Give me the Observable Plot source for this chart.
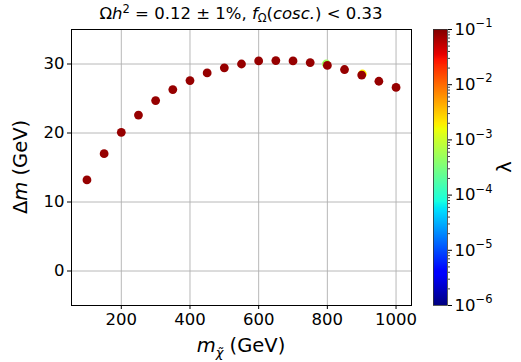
<!DOCTYPE html>
<html>
<head>
<meta charset="utf-8">
<script src="https://cdn.jsdelivr.net/npm/d3@7"></script>
<script src="https://cdn.jsdelivr.net/npm/@observablehq/plot@0.6"></script>
<style>
  html, body { margin: 0; padding: 0; background: #fff; }
  #wrap { position: relative; width: 521px; height: 362px; font-family: "DejaVu Sans", sans-serif; }
  #wrap svg { position: absolute; left: 0; top: 0; overflow: visible; }
</style>
</head>
<body>
<div id="wrap"></div>
<script>
// ---- data ----
const mass   = [797, 902, 100, 150, 200, 250, 300, 350, 400, 450, 500, 550, 600, 650, 700, 750, 800, 850, 900, 950, 1000];
const deltaM = [30.0, 28.55, 13.2, 17.0, 20.1, 22.6, 24.7, 26.3, 27.6, 28.7, 29.45, 30.0, 30.45, 30.5, 30.45, 30.2, 29.8, 29.2, 28.4, 27.5, 26.6];
const lambda = [5e-4, 2e-3, 0.08, 0.08, 0.08, 0.08, 0.08, 0.08, 0.08, 0.08, 0.08, 0.08, 0.08, 0.08, 0.08, 0.08, 0.08, 0.08, 0.08, 0.08, 0.08];
const xTicks = [200, 400, 600, 800, 1000];
const yTicks = [0, 10, 20, 30];
const cbTicks = [1e-6, 1e-5, 1e-4, 1e-3, 1e-2, 1e-1];
const cbExponents = ["−6", "−5", "−4", "−3", "−2", "−1"];

const points = mass.map((m, i) => ({m, dm: deltaM[i], lam: lambda[i]}));

// matplotlib "jet" colormap
function seg(pts, t) {
  for (let i = 1; i < pts.length; i++) {
    if (t <= pts[i][0]) {
      const [x0, y0] = pts[i - 1], [x1, y1] = pts[i];
      return y0 + (y1 - y0) * (t - x0) / (x1 - x0);
    }
  }
  return pts[pts.length - 1][1];
}
const R = [[0, 0], [0.35, 0], [0.66, 1], [0.89, 1], [1, 0.5]];
const G = [[0, 0], [0.125, 0], [0.375, 1], [0.64, 1], [0.91, 0], [1, 0]];
const B = [[0, 0.5], [0.11, 1], [0.34, 1], [0.65, 0], [1, 0]];
function jet(t) {
  t = Math.max(0, Math.min(1, t));
  return d3.rgb(255 * seg(R, t), 255 * seg(G, t), 255 * seg(B, t)).formatHex();
}
const colorScale = {type: "log", domain: [1e-6, 1e-1], interpolate: jet, clamp: true};

const W = 521, H = 362;
const mL = 71, mR = 110, mT = 29, mB = 57;
const font = "DejaVu Sans, sans-serif";

// ---- main chart ----
const main = Plot.plot({
  width: W, height: H,
  marginLeft: mL, marginRight: mR, marginTop: mT, marginBottom: mB,
  style: {fontFamily: font, fontSize: "16px", color: "#000", background: "transparent"},
  x: {domain: [55, 1045], ticks: xTicks, label: null},
  y: {domain: [-5, 35], ticks: yTicks, label: null},
  color: colorScale,
  marks: [
    Plot.gridX(xTicks, {stroke: "#b0b0b0", strokeOpacity: 1, strokeWidth: 0.9}),
    Plot.gridY(yTicks, {stroke: "#b0b0b0", strokeOpacity: 1, strokeWidth: 0.9}),
    Plot.axisX({ticks: xTicks, tickSize: 4, tickPadding: 4, fontSize: 16.5, label: null, stroke: "#000", tickFormat: d3.format("d")}),
    Plot.axisY({ticks: yTicks, tickSize: 4, tickPadding: 3, fontSize: 16.5, label: null, stroke: "#000", tickFormat: d3.format("d")}),
    Plot.dot(points, {x: "m", y: "dm", fill: d => d.lam, r: 4.4, stroke: "none"}),
    Plot.frame({stroke: "#000", strokeWidth: 1})
  ]
});
document.getElementById("wrap").appendChild(main);

// ---- colorbar ----
const cbL = 433, cbR = W - 447;
const N = 280;
const steps = d3.range(0, N).map(i => {
  const e0 = -6 + 5 * i / N, e1 = -6 + 5 * (i + 1) / N;
  return {y1: Math.pow(10, e0), y2: Math.pow(10, Math.min(-1, e1 + 5 / N)), c: Math.pow(10, (e0 + e1) / 2)};
});
const minors = [];
for (let e = -6; e < -1; e++) for (let k = 2; k <= 9; k++) minors.push(k * Math.pow(10, e));

const cb = Plot.plot({
  width: W, height: H,
  marginLeft: cbL, marginRight: cbR, marginTop: mT, marginBottom: mB,
  style: {fontFamily: font, fontSize: "16px", color: "#000", background: "transparent"},
  x: {domain: [0, 1], axis: null},
  y: {type: "log", domain: [1e-6, 1e-1], axis: null},
  color: colorScale,
  marks: [
    Plot.rect(steps, {x1: 0, x2: 1, y1: "y1", y2: "y2", fill: "c", shapeRendering: "crispEdges"}),
    Plot.axisY({anchor: "right", ticks: minors, tickSize: 2, tickFormat: () => "", stroke: "#444", label: null}),
    Plot.axisY({anchor: "right", ticks: cbTicks, tickSize: 4, tickFormat: () => "", stroke: "#000", label: null}),
    Plot.text(cbTicks, {y: d => d, frameAnchor: "right", dx: 7, textAnchor: "start", text: () => "10", fontSize: 16.5}),
    Plot.text(cbTicks, {y: d => d, frameAnchor: "right", dx: 28, dy: -6, textAnchor: "start", text: (d, i) => cbExponents[i], fontSize: 11.5}),
    Plot.frame({stroke: "#333", strokeWidth: 0.8})
  ]
});
document.getElementById("wrap").appendChild(cb);

// ---- titles and axis labels ----
const svg = d3.select(main);
const cx = mL + (W - mL - mR) / 2;

const title = svg.append("text")
  .attr("x", cx).attr("y", 19).attr("text-anchor", "middle")
  .attr("font-family", font).attr("font-size", 16.5).attr("fill", "#000");
title.append("tspan").text("Ω");
title.append("tspan").attr("font-style", "italic").text("h");
title.append("tspan").attr("font-size", 11.5).attr("dy", -6).text("2");
title.append("tspan").attr("dy", 6).text(" = 0.12 ± 1%, ");
title.append("tspan").attr("font-style", "italic").text("f");
title.append("tspan").attr("font-size", 11.5).attr("dy", 3).text("Ω");
title.append("tspan").attr("dy", -3).text("(");
title.append("tspan").attr("font-style", "italic").text("cosc.");
title.append("tspan").text(") < 0.33");

const xl = svg.append("text")
  .attr("x", cx).attr("y", 352).attr("text-anchor", "middle")
  .attr("font-family", font).attr("font-size", 19.5).attr("fill", "#000");
xl.append("tspan").attr("font-style", "italic").text("m");
xl.append("tspan").attr("font-style", "italic").attr("font-size", 13).attr("dy", 5).text("χ̃");
xl.append("tspan").attr("dy", -5).text(" (GeV)");

const yl = svg.append("text")
  .attr("transform", `translate(27, ${mT + (H - mT - mB) / 2}) rotate(-90)`)
  .attr("text-anchor", "middle")
  .attr("font-family", font).attr("font-size", 19.5).attr("fill", "#000");
yl.append("tspan").text("Δ");
yl.append("tspan").attr("font-style", "italic").text("m");
yl.append("tspan").text(" (GeV)");

d3.select(cb).append("text")
  .attr("transform", `translate(511, ${mT + (H - mT - mB) / 2}) rotate(-90)`)
  .attr("text-anchor", "middle")
  .attr("font-family", font).attr("font-size", 19.5).attr("fill", "#000")
  .text("λ");
</script>
</body>
</html>
